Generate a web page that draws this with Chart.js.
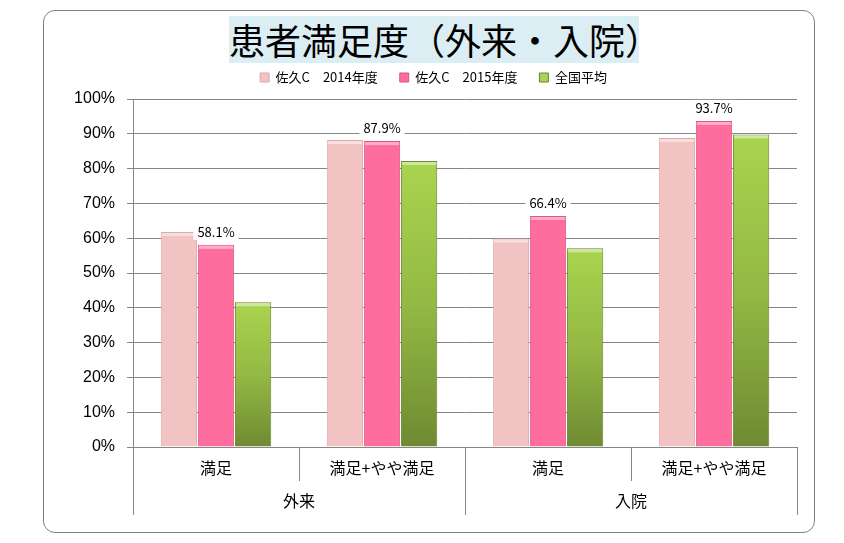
<!DOCTYPE html>
<html>
<head>
<meta charset="utf-8">
<script src="https://cdn.jsdelivr.net/npm/chart.js@4/dist/chart.umd.min.js"></script>
<style>
  body { margin: 0; background: #fff; }
  #wrap { position: relative; width: 844px; height: 543px; }
  #frame {
    position: absolute; left: 43px; top: 10px; width: 770px; height: 521px;
    border: 1px solid #7f7f7f; border-radius: 12px;
  }
  #title {
    position: absolute; left: 229px; top: 16px; width: 410px; height: 47px;
    background: #dbeef4; text-align: center; line-height: 47px;
    font-family: "Noto Sans CJK JP", sans-serif; font-size: 36px; color: #000;
    white-space: nowrap;
  }
  canvas { position: absolute; left: 0; top: 0; }
</style>
</head>
<body>
<div id="wrap">
  <div id="frame"></div>
  <div id="title">患者満足度（外来・入院）</div>
  <canvas id="barChart" width="844" height="543"></canvas>
</div>
<script>
// データ
const categories = ['満足', '満足+やや満足', '満足', '満足+やや満足'];
const groups = ['外来', '入院'];
const seriesNames = ['佐久C　2014年度', '佐久C　2015年度', '全国平均'];
const saku2014 = [61.8, 88.2, 59.9, 88.8];
const saku2015 = [58.1, 87.9, 66.4, 93.7];
const national = [41.6, 82.2, 57.1, 89.8];
const yMin = 0, yMax = 100, yStep = 10;

const jpFont = '"Noto Sans CJK JP", sans-serif';

// 緑の棒は上から下へ暗くなるグラデーション
function greenFill(c) {
    const chart = c.chart;
    const y = chart.scales && chart.scales.y;
    if (!y || c.raw === undefined) return '#a6ce4a';
    const top = y.getPixelForValue(c.raw);
    const bottom = y.getPixelForValue(0);
    if (!isFinite(top) || !isFinite(bottom) || top === bottom) return '#a6ce4a';
    const g = chart.ctx.createLinearGradient(0, top, 0, bottom);
    g.addColorStop(0, '#a9d44f');
    g.addColorStop(0.5, '#94b944');
    g.addColorStop(1, '#6f8a32');
    return g;
}

// 凡例の下に少し余白を足す
const legendGap = {
    id: 'legendGap',
    afterInit(chart) {
        const lg = chart.legend;
        if (!lg) return;
        const fit = lg.fit;
        lg.fit = function () {
            fit.call(this);
            this.height += 5;
        };
    }
};

// 棒の上端のハイライトと2015年度の値ラベル（白背景）
const valueLabels = {
    id: 'valueLabels',
    afterDatasetsDraw(chart) {
        const ctx = chart.ctx;
        ctx.save();
        chart.data.datasets.forEach((ds, di) => {
            chart.getDatasetMeta(di).data.forEach(bar => {
                const half = bar.width / 2;
                ctx.fillStyle = 'rgba(255,255,255,0.45)';
                ctx.fillRect(bar.x - half + 1, bar.y + 1, bar.width - 2, 3);
            });
        });
        const meta = chart.getDatasetMeta(1);
        ctx.font = '13px ' + jpFont;
        ctx.textAlign = 'center';
        ctx.textBaseline = 'middle';
        meta.data.forEach((bar, i) => {
            const txt = saku2015[i].toFixed(1) + '%';
            const w = ctx.measureText(txt).width;
            const cy = bar.y - 13;
            ctx.fillStyle = '#fff';
            ctx.fillRect(bar.x - w / 2 - 4, cy - 8, w + 8, 16);
            ctx.fillStyle = '#000';
            ctx.fillText(txt, bar.x, cy);
        });
        ctx.restore();
    }
};

// 横軸の区切り線と2段目のラベル
const groupAxis = {
    id: 'groupAxis',
    afterDraw(chart) {
        const ctx = chart.ctx;
        const x = chart.scales.x;
        const base = chart.scales.y.getPixelForValue(0);
        const w = (x.right - x.left) / categories.length;
        ctx.save();
        ctx.strokeStyle = '#868686';
        ctx.lineWidth = 1;
        ctx.beginPath();
        for (let k = 0; k <= categories.length; k++) {
            const px = Math.round(x.left + k * w) + 0.5;
            const long = k % 2 === 0;
            ctx.moveTo(px, base);
            ctx.lineTo(px, long ? base + 68 : base + 34);
        }
        ctx.stroke();
        ctx.fillStyle = '#000';
        ctx.font = '16px ' + jpFont;
        ctx.textAlign = 'center';
        ctx.textBaseline = 'middle';
        groups.forEach((g, i) => {
            ctx.fillText(g, x.left + (2 * i + 1) * w, base + 54);
        });
        ctx.restore();
    }
};

const ctx = document.getElementById('barChart').getContext('2d');
const chart = new Chart(ctx, {
    type: 'bar',
    data: {
        labels: categories,
        datasets: [
            {
                label: seriesNames[0],
                data: saku2014,
                backgroundColor: '#f2c3c3',
                borderColor: '#dba9a9',
                borderWidth: 1
            },
            {
                label: seriesNames[1],
                data: saku2015,
                backgroundColor: '#ff6c9e',
                borderColor: '#d9557f',
                borderWidth: 1
            },
            {
                label: seriesNames[2],
                data: national,
                backgroundColor: greenFill,
                borderColor: '#6a8530',
                borderWidth: 1
            }
        ]
    },
    options: {
        responsive: false,
        animation: false,
        categoryPercentage: 0.67,
        barPercentage: 0.98,
        layout: {
            padding: { left: 70, right: 47, top: 49, bottom: 28 }
        },
        plugins: {
            legend: {
                position: 'top',
                labels: {
                    boxWidth: 9,
                    boxHeight: 9,
                    padding: 22,
                    color: '#000',
                    font: { size: 13, family: jpFont }
                }
            },
            tooltip: { enabled: false }
        },
        scales: {
            x: {
                grid: { display: false, drawTicks: false },
                border: { display: false },
                ticks: {
                    color: '#000',
                    padding: 11,
                    font: { size: 16, family: jpFont }
                },
                afterFit(scale) { scale.height = 68; }
            },
            y: {
                min: yMin,
                max: yMax,
                grid: { color: '#868686', tickLength: 6 },
                border: { display: true, color: '#868686' },
                ticks: {
                    stepSize: yStep,
                    color: '#000',
                    padding: 12,
                    font: { size: 16, family: '"Liberation Sans", Arial, sans-serif' },
                    callback: v => v + '%'
                },
                afterFit(scale) { scale.width = 63; }
            }
        }
    },
    plugins: [legendGap, valueLabels, groupAxis]
});
</script>
</body>
</html>
